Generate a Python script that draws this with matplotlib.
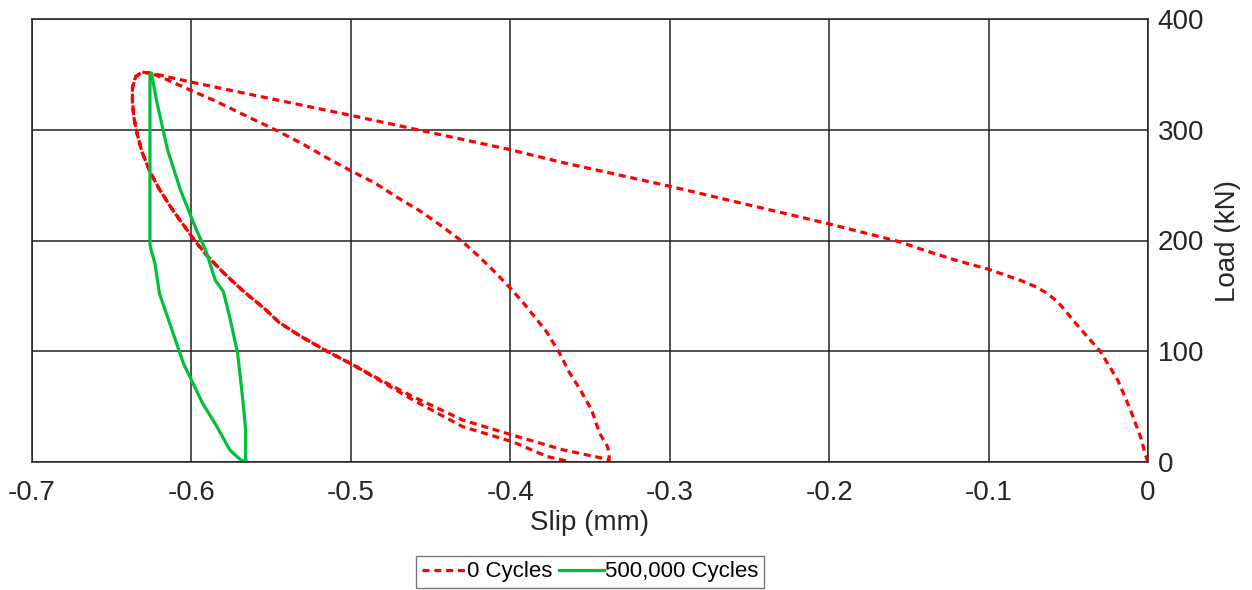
import numpy as np
import matplotlib.pyplot as plt
from matplotlib.ticker import FuncFormatter

plt.rcParams['font.family'] = ['Liberation Sans', 'DejaVu Sans']

# 0 cycles: outer loading, first unloading, reloading, second unloading
load0_slip = [0, -0.002, -0.004, -0.011, -0.019, -0.030, -0.038, -0.047, -0.052, -0.057,
              -0.063, -0.070, -0.080, -0.090, -0.100, -0.120, -0.140, -0.156, -0.200, -0.250,
              -0.300, -0.369, -0.400, -0.500, -0.600, -0.625]
load0_kn = [0, 8, 20, 47, 74, 100, 113, 128, 137, 145,
            152, 158, 164, 169, 174, 182, 191, 199, 215, 232,
            249, 271, 282, 313, 343, 351]

unl1_slip = [-0.631, -0.635, -0.637, -0.637, -0.636, -0.634, -0.631, -0.626, -0.620, -0.612,
             -0.606, -0.598, -0.590, -0.580, -0.568, -0.553, -0.545, -0.532, -0.515, -0.499,
             -0.480, -0.461, -0.430, -0.398, -0.367, -0.344, -0.338]
unl1_kn = [352, 348, 338, 325, 310, 296, 280, 262, 246, 228,
           216, 200, 186, 171, 155, 137, 126, 114, 100, 88,
           73, 59, 38, 24, 11, 4, 2]

rel_slip = [-0.338, -0.339, -0.344, -0.349, -0.356, -0.363, -0.369, -0.377, -0.383, -0.392,
            -0.400, -0.410, -0.420, -0.430, -0.443, -0.457, -0.471, -0.485, -0.500, -0.513,
            -0.530, -0.546, -0.565, -0.585, -0.601, -0.615, -0.625]
rel_kn = [8, 14, 26, 47, 65, 81, 98, 117, 128, 144,
          157, 172, 186, 199, 213, 227, 239, 252, 263, 273,
          287, 299, 312, 326, 336, 345, 351]

unl2_slip = [-0.631, -0.635, -0.637, -0.637, -0.636, -0.634, -0.631, -0.626, -0.620, -0.612,
             -0.606, -0.598, -0.590, -0.580, -0.568, -0.553, -0.545, -0.532, -0.515, -0.499,
             -0.480, -0.461, -0.430, -0.398, -0.377, -0.362]
unl2_kn = [352, 348, 338, 325, 310, 296, 280, 262, 246, 228,
           216, 200, 186, 171, 155, 137, 126, 114, 100, 88,
           72, 56, 32, 18, 5, 0]

# 500,000 cycles loop
c5_slip = [-0.566, -0.566, -0.567, -0.568, -0.571, -0.576, -0.580, -0.585, -0.591, -0.597,
           -0.607, -0.615, -0.622, -0.625,
           -0.626, -0.626, -0.626, -0.626, -0.625, -0.623, -0.620, -0.615, -0.610, -0.605,
           -0.600, -0.593, -0.584, -0.576, -0.570, -0.567, -0.566]
c5_kn = [2, 29, 45, 59, 98, 131, 154, 164, 191, 210,
         246, 282, 327, 351,
         350, 300, 250, 196, 190, 180, 152, 131, 110, 89,
         74, 53, 32, 11, 3, 0, 2]

slip0 = load0_slip + unl1_slip + rel_slip + unl2_slip
kn0 = load0_kn + unl1_kn + rel_kn + unl2_kn

fig = plt.figure(figsize=(12.52, 5.90), dpi=100)
ax = fig.add_axes([32 / 1252, 1 - 462 / 590, (1148 - 32) / 1252, (462 - 19) / 590])

ax.plot(slip0, kn0, color='#ff0000', lw=2.3, dashes=(2.2, 1.5), label='0 Cycles')
ax.plot(c5_slip, c5_kn, color='#00c03a', lw=2.3, label='500,000 Cycles')

ax.set_xlim(-0.7, 0)
ax.set_ylim(0, 400)
ax.set_xticks(np.arange(-0.7, 0.01, 0.1))
ax.set_yticks([0, 100, 200, 300, 400])
ax.xaxis.set_major_formatter(FuncFormatter(lambda v, p: '0' if abs(v) < 1e-9 else ('%.1f' % v)))
ax.yaxis.tick_right()
ax.yaxis.set_label_position('right')
ax.tick_params(axis='both', length=0, labelsize=20, colors='#262626')
ax.tick_params(axis='x', pad=13)
ax.tick_params(axis='y', pad=7)
ax.grid(True, color='#222222', lw=1.1)
for s in ax.spines.values():
    s.set_color('#222222')
    s.set_linewidth(1.1)

ax.set_xlabel('Slip (mm)', fontsize=20, color='#262626', labelpad=3)
ax.set_ylabel('Load (kN)', fontsize=20, color='#262626', labelpad=8)

leg = fig.legend(loc='center', bbox_to_anchor=(590 / 1252, 1 - 572 / 590), ncol=2,
                 fontsize=16, frameon=True, fancybox=False, edgecolor='#555555',
                 handlelength=2.0, handletextpad=0.05, columnspacing=0.3,
                 borderpad=0.25, borderaxespad=0)
leg.get_frame().set_linewidth(1.0)

fig.savefig('out.png', dpi=100)
